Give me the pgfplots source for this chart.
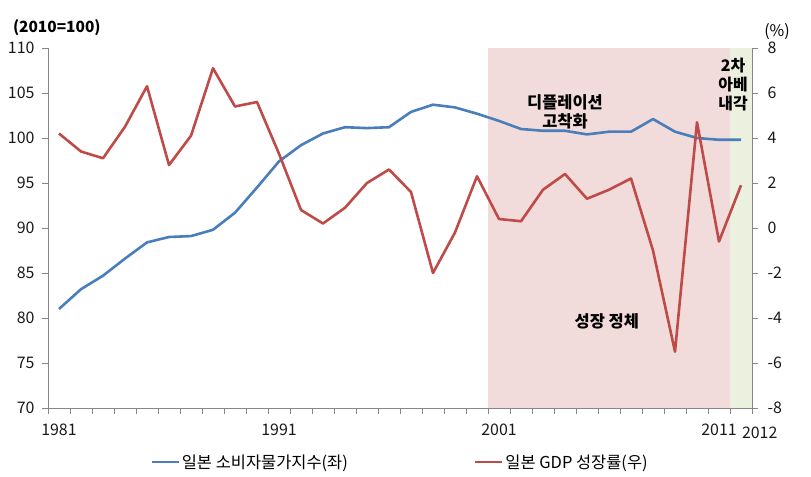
\documentclass[border=0pt]{standalone}
\usepackage{fontspec}
\setmainfont{Noto Sans CJK KR}
\usepackage{pgfplots}
\pgfplotsset{compat=1.18}
\definecolor{cpiblue}{HTML}{4A7EBB}
\definecolor{gdpred}{HTML}{BE4B48}
\definecolor{pinkbg}{HTML}{F2DCDB}
\definecolor{greenbg}{HTML}{EBF1DE}
\definecolor{axisgray}{HTML}{868686}
\pgfplotstableread{
year cpi
1981 81.0
1982 83.2
1983 84.7
1984 86.6
1985 88.4
1986 89.0
1987 89.1
1988 89.8
1989 91.7
1990 94.5
1991 97.4
1992 99.2
1993 100.5
1994 101.2
1995 101.1
1996 101.2
1997 102.9
1998 103.7
1999 103.4
2000 102.7
2001 101.9
2002 101.0
2003 100.8
2004 100.8
2005 100.4
2006 100.7
2007 100.7
2008 102.1
2009 100.7
2010 100.0
2011 99.8
2012 99.8
}\cpitable
\pgfplotstableread{
year gdp
1981 4.2
1982 3.4
1983 3.1
1984 4.5
1985 6.3
1986 2.8
1987 4.1
1988 7.1
1989 5.4
1990 5.6
1991 3.3
1992 0.8
1993 0.2
1994 0.9
1995 2.0
1996 2.6
1997 1.6
1998 -2.0
1999 -0.2
2000 2.3
2001 0.4
2002 0.3
2003 1.7
2004 2.4
2005 1.3
2006 1.7
2007 2.2
2008 -1.0
2009 -5.5
2010 4.7
2011 -0.6
2012 1.9
}\gdptable
\begin{document}
\begin{tikzpicture}
\path[use as bounding box] (-48bp,-69bp) rectangle (763bp,408bp);
\pgfplotsset{
  common/.style={
    scale only axis, width=704bp, height=360bp,
    at={(0,0)}, anchor=south west,
    xmin=1980.5, xmax=2012.5,
    axis line style={axisgray, line width=0.8pt, -},
    tick style={axisgray, line width=0.8pt},
    tick align=outside, major tick length=6bp,
    /pgf/number format/assume math mode=true,
    /pgf/number format/1000 sep={},
    ticklabel style={font=\fontsize{16}{16}\selectfont, text=black!90},
  }
}
\begin{axis}[common,
  ymin=70, ymax=110,
  axis x line*=bottom, axis y line*=left,
  ytick={70,75,...,110},
  xtick={1980.5,1981.5,...,2012.5},
  xticklabels={},
  extra x ticks={1981,1991,2001,2011},
  extra x tick labels={1981,1991,2001,2011},
  extra x tick style={major tick length=0pt, xticklabel style={yshift=-12bp}},
  yticklabel style={xshift=-4bp},
  clip=false,
]
\fill[pinkbg] (axis cs:2000.5,70) rectangle (axis cs:2011.5,110);
\fill[greenbg] (axis cs:2011.5,70) rectangle (axis cs:2012.5,110);
\addplot[cpiblue, line width=2.6bp, line join=round] table[x=year, y=cpi] {\cpitable};
\node[font=\fontsize{15.5}{16}\selectfont\bfseries, align=center] at (axis cs:1980.9,112.3) {(2010=100)};
\node[font=\fontsize{16}{16}\selectfont] at (axis cs:2013.64,111.8) {(\%)};
\node[font=\fontsize{16}{16}\selectfont, text=black!90, anchor=north, inner sep=0pt] at (axis cs:2012.85,67.9) {2012};
\node[font=\fontsize{16.5}{19}\selectfont\bfseries, align=center] at (axis cs:2004.0,102.9) {디플레이션\\고착화};
\node[font=\fontsize{16.5}{19}\selectfont\bfseries] at (axis cs:2005.9,79.6) {성장 정체};
\node[font=\fontsize{16}{19}\selectfont\bfseries, align=center] at (axis cs:2011.64,105.9) {2차\\아베\\내각};
\end{axis}
\begin{axis}[common,
  ymin=-8, ymax=8,
  axis x line=none, axis y line*=right,
  ytick={-8,-6,...,8},
  yticklabel style={xshift=6bp},
  legend style={at={(0.5,-0.15)}, anchor=center, draw=none, fill=none,
    font=\fontsize{16.5}{17}\selectfont, legend columns=2,
    /tikz/every even column/.append style={column sep=124bp}},
  legend image code/.code={\draw[#1] (0bp,0bp) -- (27bp,0bp);},
]
\addlegendimage{cpiblue, line width=2.6bp}
\addlegendentry{일본 소비자물가지수(좌)}
\addplot[gdpred, line width=2.6bp, line join=round] table[x=year, y=gdp] {\gdptable};
\addlegendentry{일본 GDP 성장률(우)}
\end{axis}
\end{tikzpicture}
\end{document}
